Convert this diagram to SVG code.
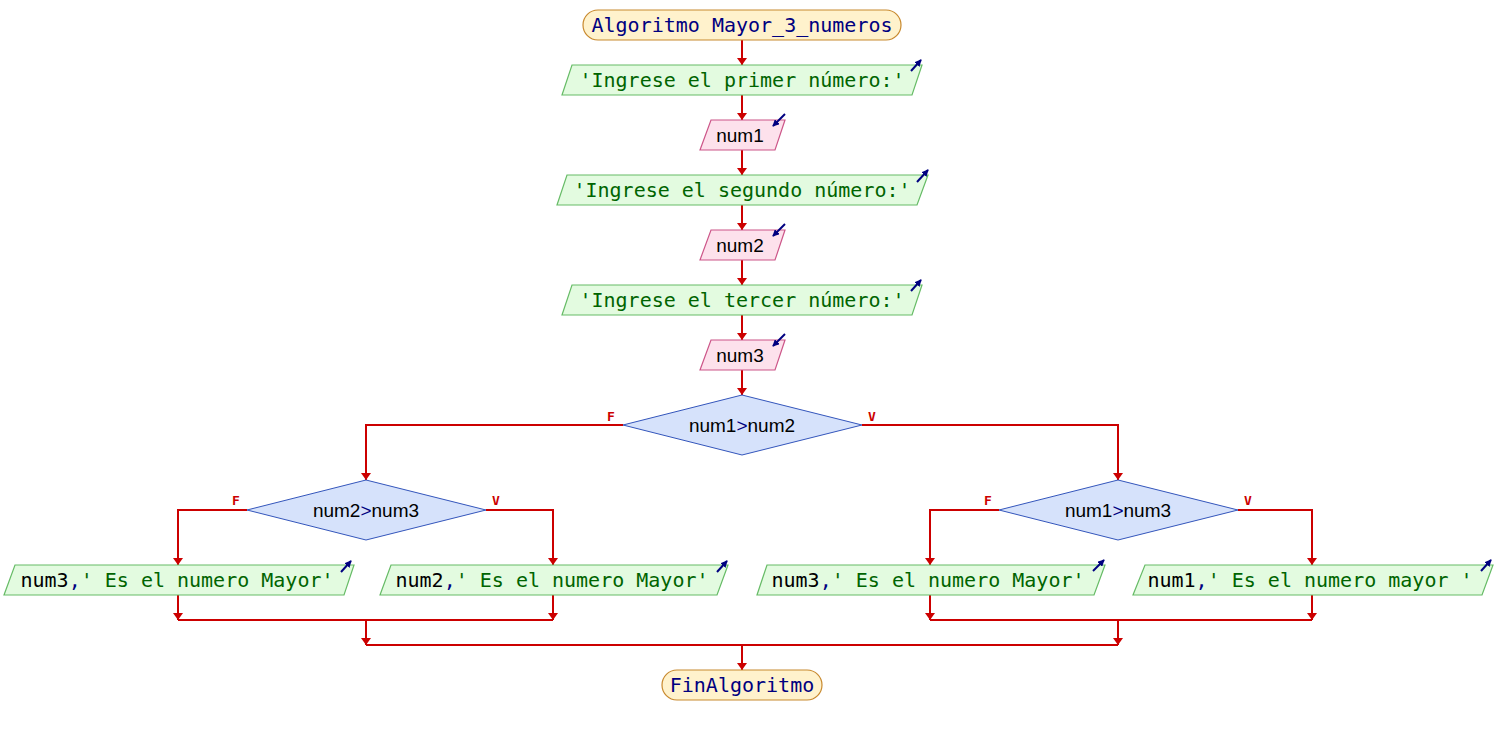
<svg xmlns="http://www.w3.org/2000/svg" width="1496" height="735" viewBox="0 0 1496 735">
<style>
.term{fill:#fff2cc;stroke:#c8892e;stroke-width:1.2}
.out{fill:#e3fbe0;stroke:#66bb66;stroke-width:1.2}
.inp{fill:#fde1ec;stroke:#cc5588;stroke-width:1.2}
.dec{fill:#d6e2fb;stroke:#3355bb;stroke-width:1}
.mono{font-family:"DejaVu Sans Mono","Liberation Mono",monospace;font-size:20px}
.sans{font-family:"Liberation Sans","DejaVu Sans",sans-serif;font-size:19px;fill:#000}
.kw{fill:#000080}
.str{fill:#006400}
.var{fill:#000}
.lbl{font-family:"DejaVu Sans Mono",monospace;font-size:13px;font-weight:bold;fill:#cc0000}
.conn path{fill:none;stroke:#cc0000;stroke-width:2}
.icon{fill:none;stroke:#000080;stroke-width:2}
</style>
<defs>
<marker id="ah" viewBox="0 0 7 10" refX="7" refY="5" markerWidth="7" markerHeight="10" markerUnits="userSpaceOnUse" orient="auto"><path d="M0,0 L7,5 L0,10 z" fill="#cc0000"/></marker>
<marker id="ih" viewBox="0 0 8 8" refX="7" refY="4" markerWidth="7" markerHeight="7" markerUnits="userSpaceOnUse" orient="auto"><path d="M0,0 L8,4 L0,8 z" fill="#000080"/></marker>
</defs>
<g class="conn" id="connectors">
<path d="M742,40 V65" marker-end="url(#ah)"/>
<path d="M742,95 V120" marker-end="url(#ah)"/>
<path d="M742,150 V175" marker-end="url(#ah)"/>
<path d="M742,205 V230" marker-end="url(#ah)"/>
<path d="M742,260 V285" marker-end="url(#ah)"/>
<path d="M742,315 V340" marker-end="url(#ah)"/>
<path d="M742,370 V395" marker-end="url(#ah)"/>
<path d="M623,425 H366 V480" marker-end="url(#ah)"/>
<path d="M862,425 H1118 V480" marker-end="url(#ah)"/>
<path d="M247,510 H178 V565" marker-end="url(#ah)"/>
<path d="M486,510 H553 V565" marker-end="url(#ah)"/>
<path d="M999,510 H930 V565" marker-end="url(#ah)"/>
<path d="M1238,510 H1312 V565" marker-end="url(#ah)"/>
<path d="M178,595 V620" marker-end="url(#ah)"/>
<path d="M553,595 V620" marker-end="url(#ah)"/>
<path d="M178,620 H553"/>
<path d="M366,620 V645" marker-end="url(#ah)"/>
<path d="M930,595 V620" marker-end="url(#ah)"/>
<path d="M1312,595 V620" marker-end="url(#ah)"/>
<path d="M930,620 H1312"/>
<path d="M1118,620 V645" marker-end="url(#ah)"/>
<path d="M366,645 H1118"/>
<path d="M742,645 V670" marker-end="url(#ah)"/>
<text class="lbl" x="611" y="421" text-anchor="middle">F</text>
<text class="lbl" x="872" y="421" text-anchor="middle">V</text>
<text class="lbl" x="236" y="505" text-anchor="middle">F</text>
<text class="lbl" x="496" y="505" text-anchor="middle">V</text>
<text class="lbl" x="988" y="505" text-anchor="middle">F</text>
<text class="lbl" x="1248" y="505" text-anchor="middle">V</text>
</g>
<g id="start">
<rect class="term" x="583" y="10" width="318" height="30" rx="15"/>
<text class="mono kw" x="742" y="32" text-anchor="middle">Algoritmo Mayor_3_numeros</text>
</g>
<g id="out1">
<polygon class="out" points="572,65 922,65 912,95 562,95"/>
<text class="mono str" x="742" y="87" text-anchor="middle">'Ingrese el primer número:'</text>
<path class="icon" d="M911,71 L921,60" marker-end="url(#ih)"/>
</g>
<g id="in1">
<polygon class="inp" points="711,120 785,120 775,150 700,150"/>
<text class="sans" x="740" y="142" text-anchor="middle">num1</text>
<path class="icon" d="M785,114 L773,126" marker-end="url(#ih)"/>
</g>
<g id="out2">
<polygon class="out" points="567,175 928,175 917,205 557,205"/>
<text class="mono str" x="742" y="197" text-anchor="middle">'Ingrese el segundo número:'</text>
<path class="icon" d="M917,182 L928,170" marker-end="url(#ih)"/>
</g>
<g id="in2">
<polygon class="inp" points="711,230 785,230 775,260 700,260"/>
<text class="sans" x="740" y="252" text-anchor="middle">num2</text>
<path class="icon" d="M785,224 L773,236" marker-end="url(#ih)"/>
</g>
<g id="out3">
<polygon class="out" points="572,285 922,285 912,315 562,315"/>
<text class="mono str" x="742" y="307" text-anchor="middle">'Ingrese el tercer número:'</text>
<path class="icon" d="M911,291 L921,280" marker-end="url(#ih)"/>
</g>
<g id="in3">
<polygon class="inp" points="711,340 785,340 775,370 700,370"/>
<text class="sans" x="740" y="362" text-anchor="middle">num3</text>
<path class="icon" d="M785,334 L773,346" marker-end="url(#ih)"/>
</g>
<g id="dec1">
<polygon class="dec" points="742,395 862,425 742,455 623,425"/>
<text class="sans" x="742" y="432" text-anchor="middle">num1<tspan class="kw">&gt;</tspan>num2</text>
</g>
<g id="dec2">
<polygon class="dec" points="366,480 486,510 366,540 247,510"/>
<text class="sans" x="366" y="517" text-anchor="middle">num2<tspan class="kw">&gt;</tspan>num3</text>
</g>
<g id="dec3">
<polygon class="dec" points="1118,480 1238,510 1118,540 999,510"/>
<text class="sans" x="1118" y="517" text-anchor="middle">num1<tspan class="kw">&gt;</tspan>num3</text>
</g>
<g id="outA">
<polygon class="out" points="15,565 354,565 344,595 4,595"/>
<text class="mono" x="177" y="587" text-anchor="middle"><tspan class="var">num3</tspan><tspan class="kw">,</tspan><tspan class="str">' Es el numero Mayor'</tspan></text>
<path class="icon" d="M341,572 L351,561" marker-end="url(#ih)"/>
</g>
<g id="outB">
<polygon class="out" points="391,565 728,565 717,595 380,595"/>
<text class="mono" x="552" y="587" text-anchor="middle"><tspan class="var">num2</tspan><tspan class="kw">,</tspan><tspan class="str">' Es el numero Mayor'</tspan></text>
<path class="icon" d="M717,572 L727,561" marker-end="url(#ih)"/>
</g>
<g id="outC">
<polygon class="out" points="767,565 1105,565 1094,595 757,595"/>
<text class="mono" x="928" y="587" text-anchor="middle"><tspan class="var">num3</tspan><tspan class="kw">,</tspan><tspan class="str">' Es el numero Mayor'</tspan></text>
<path class="icon" d="M1093,571 L1104,560" marker-end="url(#ih)"/>
</g>
<g id="outD">
<polygon class="out" points="1145,565 1493,565 1482,595 1133,595"/>
<text class="mono" x="1310" y="587" text-anchor="middle"><tspan class="var">num1</tspan><tspan class="kw">,</tspan><tspan class="str">' Es el numero mayor '</tspan></text>
<path class="icon" d="M1481,571 L1491,560" marker-end="url(#ih)"/>
</g>
<g id="end">
<rect class="term" x="662" y="670" width="160" height="30" rx="15"/>
<text class="mono kw" x="742" y="692" text-anchor="middle">FinAlgoritmo</text>
</g>
</svg>
